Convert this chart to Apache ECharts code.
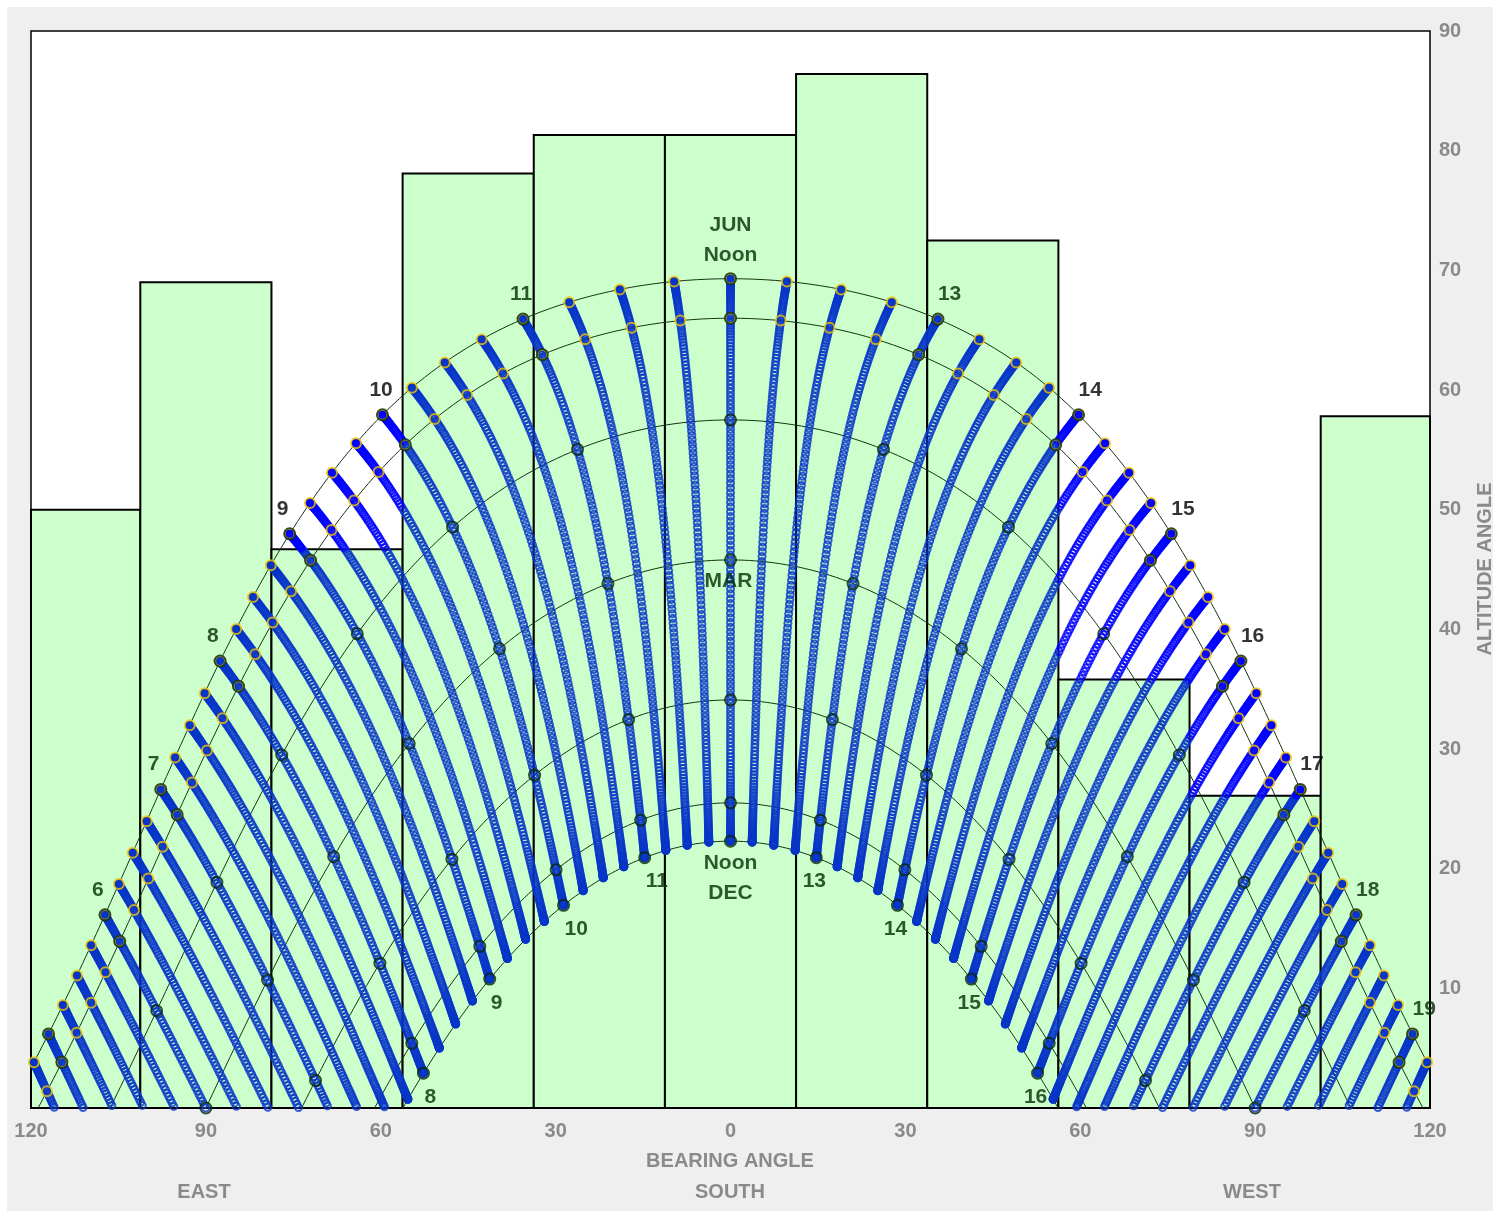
<!DOCTYPE html>
<html>
<head>
<meta charset="utf-8">
<script src="https://cdn.jsdelivr.net/npm/echarts@6.0.0/dist/echarts.min.js"></script>
<style>
  html, body { margin: 0; padding: 0; background: #ffffff; }
  #frame { position: absolute; left: 7px; top: 7px; width: 1486px; height: 1204px; background: #efefef; }
  #chart { position: absolute; left: 0; top: 0; width: 1499px; height: 1217px; }
</style>
</head>
<body>
<div id="frame"></div>
<div id="chart"></div>
<script>
// Noon altitude of each monthly sun path (Jun, May/Jul, Apr/Aug, Mar/Sep, Feb/Oct, Jan/Nov, Dec)
const arcNoonAltitude = [69.3, 66.0, 57.5, 45.8, 34.1, 25.5, 22.3];
// Paths that carry a marker at every quarter hour
const arcQuarterMarks = [true, true, false, false, false, false, false];

// Obstruction profile: bearing sector edges and skyline altitude per sector
const sectorEdges = [-120, -101.25, -78.75, -56.25, -33.75, -11.25, 11.25, 33.75, 56.25, 78.75, 101.25, 120];
const sectorHeights = [50, 69, 46.7, 78.1, 81.3, 81.3, 86.4, 72.5, 35.8, 26.1, 57.8];

// Time lines (solar time, hours) drawn for every day between the solstices
const stripeFirstHour = 4.75;
const stripeLastHour = 19.25;
const stripeStepMinutes = 15;
const daysBetweenSolstices = 182;

// Hour numbers written along the June and December paths
const junLabelHours = [6, 7, 8, 9, 10, 11, 13, 14, 15, 16, 17, 18, 19];
const decLabelHours = [8, 9, 10, 11, 13, 14, 15, 16];

const RAD = Math.PI / 180;
const lastArc = arcNoonAltitude.length - 1;
const siteLatitude = 90 - (arcNoonAltitude[0] + arcNoonAltitude[lastArc]) / 2;
const axialTilt = (arcNoonAltitude[0] - arcNoonAltitude[lastArc]) / 2;
const arcDeclination = arcNoonAltitude.map(a => a - (90 - siteLatitude));

// Sun bearing (degrees from south, west positive) and altitude for a declination and solar hour
function sunPosition(decl, solarHour) {
  const h = (solarHour - 12) * 15 * RAD, f = siteLatitude * RAD, d = decl * RAD;
  const alt = Math.asin(Math.sin(f) * Math.sin(d) + Math.cos(f) * Math.cos(d) * Math.cos(h));
  const bearing = Math.atan2(Math.sin(h), Math.cos(h) * Math.sin(f) - Math.tan(d) * Math.cos(f));
  return [bearing / RAD, alt / RAD];
}
function skylineAt(bearing) {
  for (let i = 0; i < sectorHeights.length; i++) {
    if (bearing >= sectorEdges[i] && bearing <= sectorEdges[i + 1]) return sectorHeights[i];
  }
  return 0;
}
const inView = p => p[1] >= 0 && p[0] >= -120 && p[0] <= 120;
const isShaded = p => p[1] < skylineAt(p[0]);

const stripeHours = [];
for (let t = stripeFirstHour; t <= stripeLastHour + 1e-9; t += stripeStepMinutes / 60) stripeHours.push(t);

// Daily sun positions along each time line
const stripeVisible = [], stripeShaded = [];
stripeHours.forEach(t => {
  for (let day = 0; day <= daysBetweenSolstices; day++) {
    const decl = -axialTilt * Math.cos(Math.PI * day / daysBetweenSolstices);
    const p = sunPosition(decl, t);
    if (!inView(p)) continue;
    (isShaded(p) ? stripeShaded : stripeVisible).push(p);
  }
});

// Monthly day paths
const arcSeries = arcDeclination.map(decl => {
  const pts = [];
  for (let t = 0; t <= 24.0001; t += 0.05) {
    const p = sunPosition(decl, t);
    if (p[1] >= -4) pts.push(p);
  }
  return {
    type: 'line', data: pts, showSymbol: false, silent: true, clip: true, z: 2,
    lineStyle: { color: '#143414', width: 1 }
  };
});

// Markers on the paths
const quarterMarks = [], hourMarks = [];
arcDeclination.forEach((decl, i) => {
  if (arcQuarterMarks[i]) {
    stripeHours.forEach(t => { const p = sunPosition(decl, t); if (inView(p)) quarterMarks.push(p); });
  }
  for (let h = 4; h <= 20; h++) {
    const p = sunPosition(decl, h);
    if (inView(p)) hourMarks.push(p);
  }
});

// Hour number labels
const labelColor = p => (isShaded(p) ? '#052c05' : '#000000');
const hourLabels = [];
junLabelHours.forEach(h => {
  const p = sunPosition(arcDeclination[0], h);
  hourLabels.push({
    value: p, name: String(h),
    label: { align: 'left', offset: [h < 12 ? -13 : 0, -25], color: labelColor(p) }
  });
});
decLabelHours.forEach(h => {
  const p = sunPosition(arcDeclination[lastArc], h);
  hourLabels.push({
    value: p, name: String(h),
    label: h < 12 ? { align: 'left', offset: [1, 24], color: labelColor(p) }
                  : { align: 'center', offset: [-2, 24], color: labelColor(p) }
  });
});

const midArc = Math.round(lastArc / 2);
const pathNames = [
  { value: sunPosition(arcDeclination[0], 12), name: 'JUN\nNoon',
    label: { verticalAlign: 'bottom', offset: [0, -9] } },
  { value: sunPosition(arcDeclination[midArc], 12), name: 'MAR',
    label: { verticalAlign: 'middle', offset: [-2, 21] } },
  { value: sunPosition(arcDeclination[lastArc], 12), name: 'Noon\nDEC',
    label: { verticalAlign: 'top', offset: [0, 7] } }
];

const sectors = sectorHeights.map((h, i) => [sectorEdges[i], sectorEdges[i + 1], h]);

const gray = '#8a8a8a';
const titleFont = { fill: gray, font: 'bold 20px "Liberation Sans", Arial, sans-serif', align: 'center', verticalAlign: 'middle' };
const title = (text, x, y, rotation) => ({
  type: 'text', x, y, rotation: rotation || 0, style: Object.assign({ text }, titleFont)
});

const chart = echarts.init(document.getElementById('chart'));
chart.setOption({
  animation: false,
  backgroundColor: 'transparent',
  grid: {
    left: 31, right: 69, top: 31, bottom: 109, show: true,
    backgroundColor: '#ffffff', borderColor: '#000000', borderWidth: 1.5
  },
  xAxis: {
    type: 'value', min: -120, max: 120, interval: 30,
    axisLine: { show: false }, axisTick: { show: false }, splitLine: { show: false },
    axisLabel: {
      formatter: v => String(Math.abs(v)), color: gray, fontSize: 20, fontWeight: 'bold',
      fontFamily: '"Liberation Sans", Arial, sans-serif', margin: 13
    }
  },
  yAxis: {
    type: 'value', position: 'right', min: 0, max: 90, interval: 10,
    axisLine: { show: false }, axisTick: { show: false }, splitLine: { show: false },
    axisLabel: {
      formatter: v => (v === 0 ? '' : String(v)), color: gray, fontSize: 20, fontWeight: 'bold',
      fontFamily: '"Liberation Sans", Arial, sans-serif', margin: 9
    }
  },
  graphic: [
    title('BEARING ANGLE', 730, 1161),
    title('EAST', 204, 1192),
    title('SOUTH', 730, 1192),
    title('WEST', 1252, 1192),
    title('ALTITUDE ANGLE', 1485, 569, Math.PI / 2)
  ],
  series: [
    {
      type: 'custom', z: 1, silent: true, data: sectors,
      encode: { x: [0, 1], y: 2 },
      renderItem: (params, api) => {
        const p0 = api.coord([api.value(0), 0]);
        const p1 = api.coord([api.value(1), api.value(2)]);
        return {
          type: 'rect',
          shape: { x: p0[0], y: p1[1], width: p1[0] - p0[0], height: p0[1] - p1[1] },
          style: { fill: '#ccffcc', stroke: '#000000', lineWidth: 2 }
        };
      }
    },
    ...arcSeries,
    {
      type: 'scatter', data: stripeShaded, z: 3, silent: true, progressive: 0, large: false,
      symbol: 'circle', symbolSize: 7,
      itemStyle: { color: 'transparent', borderColor: '#0836c8', borderWidth: 2 }
    },
    {
      type: 'scatter', data: stripeVisible, z: 3, silent: true, progressive: 0, large: false,
      symbol: 'circle', symbolSize: 7,
      itemStyle: { color: 'transparent', borderColor: '#0000ff', borderWidth: 2 }
    },
    {
      type: 'scatter', data: quarterMarks, z: 4, silent: true,
      symbol: 'circle', symbolSize: 10,
      itemStyle: { color: 'transparent', borderColor: '#f2c500', borderWidth: 2 }
    },
    {
      type: 'scatter', data: hourMarks, z: 5, silent: true,
      symbol: 'circle', symbolSize: 11,
      itemStyle: { color: 'transparent', borderColor: '#082808', borderWidth: 2 }
    },
    {
      type: 'scatter', data: hourLabels, z: 6, silent: true,
      symbolSize: 1, itemStyle: { color: 'transparent' },
      label: {
        show: true, position: 'inside', formatter: p => p.name, verticalAlign: 'middle',
        fontSize: 21, fontWeight: 'bold', fontFamily: '"Liberation Sans", Arial, sans-serif'
      }
    },
    {
      type: 'scatter', data: pathNames, z: 6, silent: true,
      symbolSize: 1, itemStyle: { color: 'transparent' },
      label: {
        show: true, position: 'inside', formatter: p => p.name, align: 'center', lineHeight: 30,
        color: '#052c05', fontSize: 21, fontWeight: 'bold', fontFamily: '"Liberation Sans", Arial, sans-serif'
      }
    }
  ]
});
</script>
</body>
</html>
